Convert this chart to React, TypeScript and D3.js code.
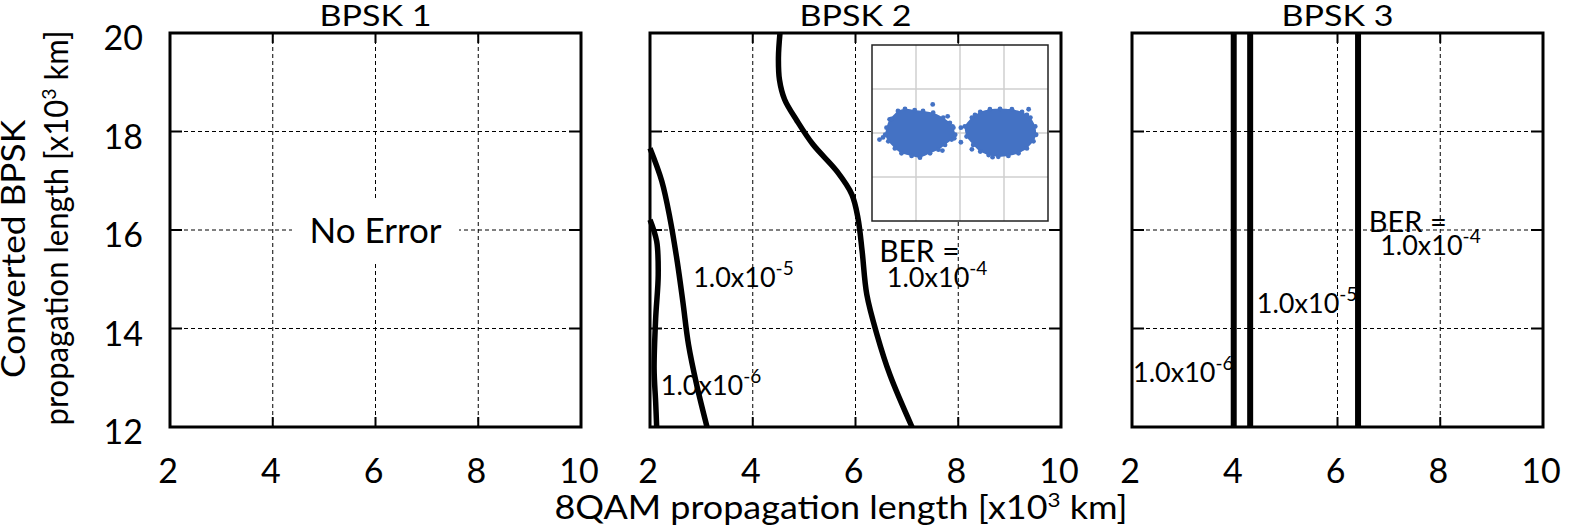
import React from 'react';
import * as d3 from 'd3';

// ---- data ----
const panelTitles = ['BPSK 1', 'BPSK 2', 'BPSK 3'];
const xTicks = [2, 4, 6, 8, 10];
const yTicks = [12, 14, 16, 18, 20];

// BPSK 2 contour lines [8QAM length, BPSK length]
const bpsk2Ber4: [number, number][] = [
  [4.53, 20], [4.5, 19.5], [4.52, 19.05], [4.62, 18.65], [4.86, 18.22], [5.17, 17.74],
  [5.64, 17.19], [5.93, 16.72], [6.05, 16.23], [6.13, 15.56], [6.22, 14.69],
  [6.42, 13.87], [6.67, 13.06], [7.1, 12],
];
const bpsk2Ber5: [number, number][] = [
  [2.0, 17.66], [2.23, 16.99], [2.39, 16.23], [2.53, 15.36], [2.64, 14.54],
  [2.75, 13.67], [2.91, 12.85], [3.11, 12],
];
const bpsk2Ber6: [number, number][] = [
  [2.0, 16.21], [2.13, 15.77], [2.16, 15.09], [2.11, 14.2], [2.08, 13.18],
  [2.11, 12.51], [2.13, 12],
];
// BPSK 3 contours are vertical
const bpsk3Ber: number[] = [3.98, 4.3, 6.4];

// inset constellation: cluster outlines and stray symbols
const clusterLeft: [number, number][] = [
  [-1.67, 0.12], [-1.6, 0.31], [-1.41, 0.5], [-1.25, 0.55], [-1.03, 0.52],
  [-0.84, 0.5], [-0.61, 0.46], [-0.38, 0.35], [-0.23, 0.23], [-0.15, 0.12],
  [-0.11, -0.04], [-0.19, -0.15], [-0.34, -0.27], [-0.49, -0.38], [-0.68, -0.46],
  [-0.91, -0.56], [-1.1, -0.52], [-1.33, -0.46], [-1.48, -0.35], [-1.63, -0.19],
  [-1.7, -0.04],
];
const clusterRight: [number, number][] = [
  [0.11, 0.15], [0.27, 0.35], [0.46, 0.48], [0.68, 0.54], [0.91, 0.55],
  [1.18, 0.54], [1.41, 0.48], [1.6, 0.35], [1.71, 0.15], [1.73, -0.04],
  [1.67, -0.19], [1.52, -0.35], [1.33, -0.46], [1.1, -0.52], [0.87, -0.54],
  [0.65, -0.5], [0.46, -0.42], [0.3, -0.27], [0.15, -0.08],
];
const strayPoints: [number, number][] = [
  [-0.62, 0.65], [-1.83, -0.15], [-0.28, 0.38], [-0.17, 0.15], [0.02, 0.12],
  [0.02, -0.21], [0.27, -0.37], [0.74, -0.55], [1.56, 0.54], [1.52, 0.41],
  [0.34, 0.41], [-1.56, 0.32], [-0.4, -0.4], [-0.13, -0.12], [-1.75, -0.1],
];

// annotation anchors (data coords) per panel
const bpsk2Labels = [
  { x: 2.84, y: 14.84, base: '1.0x10', exp: '-5' },
  { x: 6.61, y: 14.84, base: '1.0x10', exp: '-4' },
  { x: 2.21, y: 12.65, base: '1.0x10', exp: '-6' },
];
const bpsk3Labels = [
  { x: 2.02, y: 12.92, base: '1.0x10', exp: '-6' },
  { x: 4.43, y: 14.31, base: '1.0x10', exp: '-5' },
  { x: 6.83, y: 15.49, base: '1.0x10', exp: '-4' },
];

// ---- layout ----
const W = 1570;
const H = 529;
const panelLeft = [170, 650, 1132];
const panelW = 411;
const top = 33;
const bottom = 427;
const FONT = 'Lato, "Open Sans", sans-serif';

function Panel({ idx }: { idx: number }) {
  const x0 = panelLeft[idx];
  const x = d3.scaleLinear().domain([2, 10]).range([x0, x0 + panelW]);
  const y = d3.scaleLinear().domain([12, 20]).range([bottom, top]);
  const line = d3.line<[number, number]>()
    .x(d => x(d[0]))
    .y(d => y(d[1]))
    .curve(d3.curveCatmullRom.alpha(0.5));

  const inner = xTicks.slice(1, -1);
  const innerY = yTicks.slice(1, -1);

  const labels = idx === 1 ? bpsk2Labels : idx === 2 ? bpsk3Labels : [];

  return (
    <g>
      <text x={x(6)} y={26} textAnchor="middle" fontSize={29} textLength={112} lengthAdjust="spacingAndGlyphs">{panelTitles[idx]}</text>
      {/* grid */}
      {inner.map(t => (
        <line key={'gx' + t} x1={x(t)} x2={x(t)} y1={top} y2={bottom}
          stroke="#000" strokeWidth={1} strokeDasharray="4,3" />
      ))}
      {innerY.map(t => (
        <line key={'gy' + t} x1={x0} x2={x0 + panelW} y1={y(t)} y2={y(t)}
          stroke="#000" strokeWidth={1} strokeDasharray="4,3" />
      ))}
      {/* inward ticks */}
      {inner.map(t => (
        <g key={'tx' + t}>
          <line x1={x(t)} x2={x(t)} y1={top} y2={top + 10} stroke="#000" strokeWidth={2} />
          <line x1={x(t)} x2={x(t)} y1={bottom} y2={bottom - 10} stroke="#000" strokeWidth={2} />
        </g>
      ))}
      {innerY.map(t => (
        <g key={'ty' + t}>
          <line x1={x0} x2={x0 + 12} y1={y(t)} y2={y(t)} stroke="#000" strokeWidth={2} />
          <line x1={x0 + panelW} x2={x0 + panelW - 12} y1={y(t)} y2={y(t)} stroke="#000" strokeWidth={2} />
        </g>
      ))}
      {/* x tick labels */}
      {xTicks.map(t => (
        <text key={'xl' + t} x={x(t) - 2} y={483} textAnchor="middle" fontSize={34}>{t}</text>
      ))}
      {idx === 0 && yTicks.map(t => (
        <text key={'yl' + t} x={143} y={y(t) + 17} textAnchor="end" fontSize={34}>{t}</text>
      ))}

      {idx === 0 && (
        <g>
          <rect x={292} y={198} width={167} height={64} fill="#fff" />
          <text x={x(6)} y={243} textAnchor="middle" fontSize={35}>No Error</text>
        </g>
      )}

      {idx === 1 && (
        <g>
          {[bpsk2Ber4, bpsk2Ber5, bpsk2Ber6].map((c, i) => (
            <path key={'c' + i} d={line(c) || ''} fill="none" stroke="#000" strokeWidth={5.5} />
          ))}
          <text x={x(6.46)} y={y(15.35)} fontSize={30}>BER =</text>
          <Inset x0={872} y0={45} size={176} />
        </g>
      )}

      {idx === 2 && (
        <g>
          {bpsk3Ber.map((v, i) => (
            <line key={'v' + i} x1={x(v)} x2={x(v)} y1={y(12)} y2={y(20)} stroke="#000" strokeWidth={6} />
          ))}
          <text x={x(6.61)} y={y(15.96)} fontSize={29}>BER =</text>
        </g>
      )}

      {labels.map((l, i) => (
        <text key={'lb' + i} x={x(l.x)} y={y(l.y)} fontSize={27}>
          {l.base}
          <tspan dy={-12} fontSize={19}>{l.exp}</tspan>
        </text>
      ))}

      {/* frame */}
      <rect x={x0} y={top} width={panelW} height={bottom - top} fill="none" stroke="#000" strokeWidth={3} />
    </g>
  );
}

function Inset({ x0, y0, size }: { x0: number; y0: number; size: number }) {
  const sx = d3.scaleLinear().domain([-2, 2]).range([x0, x0 + size]);
  const sy = d3.scaleLinear().domain([-2, 2]).range([y0 + size, y0]);
  const area = d3.line<[number, number]>()
    .x(d => sx(d[0]))
    .y(d => sy(d[1]))
    .curve(d3.curveCardinalClosed.tension(0.3));
  const grid = [-1, 0, 1];
  const blue = '#4472C4';
  return (
    <g>
      <rect x={x0} y={y0} width={size} height={size} fill="#fff" />
      {grid.map(g => (
        <g key={'ig' + g}>
          <line x1={sx(g)} x2={sx(g)} y1={y0} y2={y0 + size} stroke="#cfcfcf" strokeWidth={1.5} />
          <line x1={x0} x2={x0 + size} y1={sy(g)} y2={sy(g)} stroke="#cfcfcf" strokeWidth={1.5} />
        </g>
      ))}
      {[clusterLeft, clusterRight].map((c, i) => (
        <g key={'cl' + i}>
          <path d={area(c) || ''} fill={blue} />
          {c.map((p, j) => (
            <circle key={j} cx={sx(p[0])} cy={sy(p[1])} r={2.4} fill={blue} />
          ))}
        </g>
      ))}
      {strayPoints.map((p, i) => (
        <circle key={'sp' + i} cx={sx(p[0])} cy={sy(p[1])} r={2.4} fill={blue} />
      ))}
      <rect x={x0} y={y0} width={size} height={size} fill="none" stroke="#222" strokeWidth={1.5} />
    </g>
  );
}

export default function App() {
  return (
    <div style={{ position: 'absolute', left: 0, top: 0 }}>
      <svg width={W} height={H} style={{ display: 'block', background: '#fff' }}
        fontFamily={FONT} fill="#000">
        <rect width={W} height={H} fill="#fff" />
        {[0, 1, 2].map(i => <Panel key={i} idx={i} />)}
        <text transform="translate(25,249) rotate(-90)" textAnchor="middle" fontSize={32}
          textLength={258} lengthAdjust="spacingAndGlyphs">Converted BPSK</text>
        <text transform="translate(68,228) rotate(-90)" textAnchor="middle" fontSize={32}
          textLength={395} lengthAdjust="spacingAndGlyphs">
          propagation length [x10<tspan dy={-12} fontSize={20}>3</tspan><tspan dy={12}> km]</tspan>
        </text>
        <text x={841} y={519} textAnchor="middle" fontSize={32}
          textLength={573} lengthAdjust="spacingAndGlyphs">
          8QAM propagation length [x10<tspan dy={-12} fontSize={20}>3</tspan><tspan dy={12}> km]</tspan>
        </text>
      </svg>
    </div>
  );
}
